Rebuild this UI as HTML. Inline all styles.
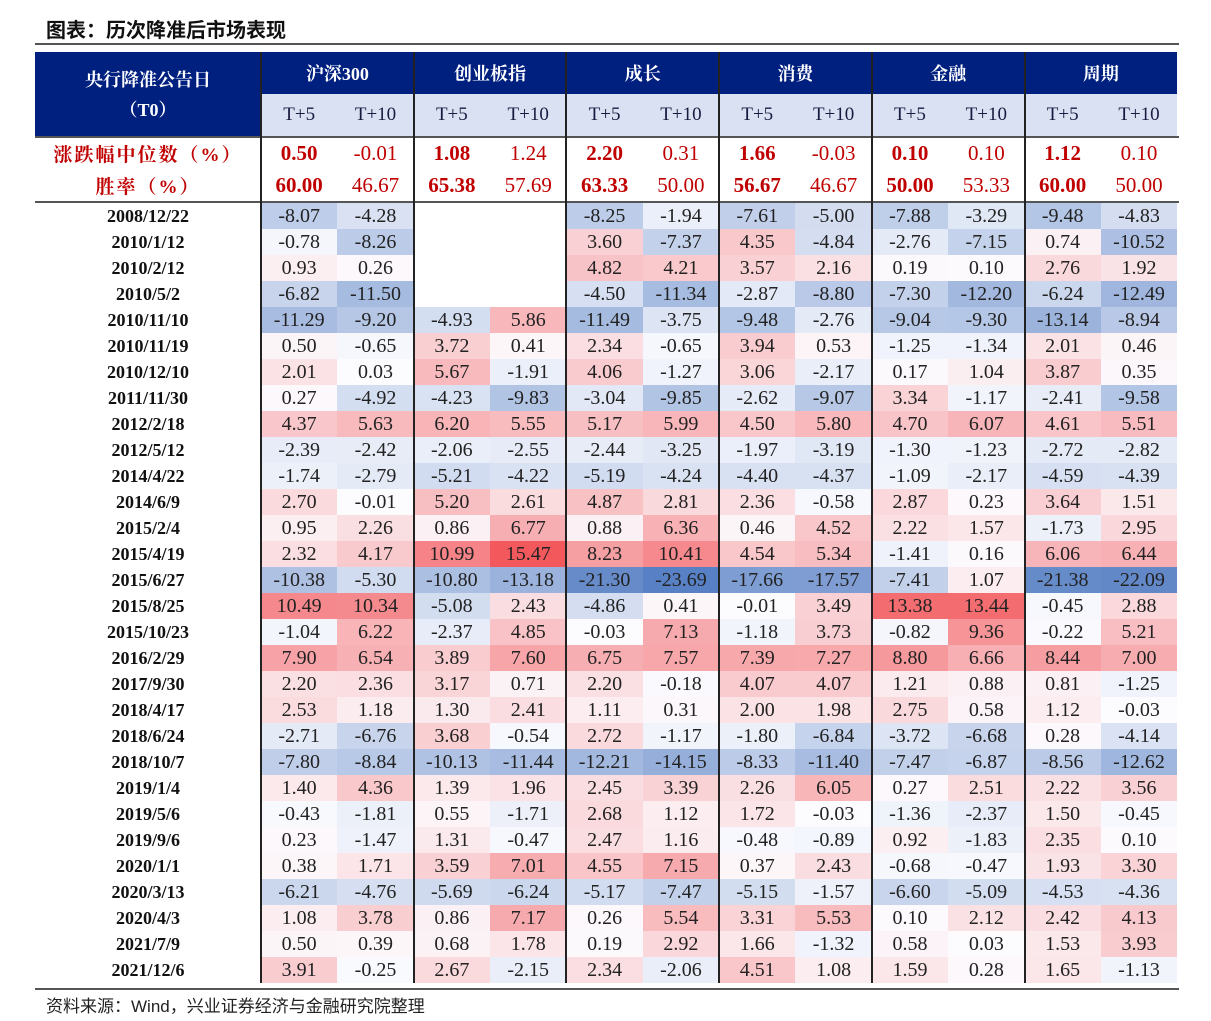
<!DOCTYPE html>
<html><head><meta charset="utf-8">
<style>
body{margin:0;background:#fff;width:1211px;height:1021px;position:relative;overflow:hidden;font-family:"Liberation Serif","Noto Serif CJK SC",serif;}
.abs{position:absolute;}
#title{left:46px;top:14px;font:bold 20px "Liberation Sans","Noto Sans CJK SC",sans-serif;color:#111;}
.hline{position:absolute;height:2px;background:#555;}
.c{position:absolute;display:flex;align-items:center;justify-content:center;box-sizing:border-box;}
#foot{left:46px;top:992px;font:17px "Liberation Sans","Noto Sans CJK SC",sans-serif;color:#222;}
</style></head><body>
<div id="title" class="abs">图表：历次降准后市场表现</div>
<div class="hline" style="left:35px;top:43px;width:1144px;"></div>
<div id="tbl"></div>
<div class="hline" style="left:35px;top:988px;width:1144px;"></div>
<div id="foot" class="abs">资料来源：Wind，兴业证券经济与金融研究院整理</div>
<script>
const groups=["沪深300","创业板指","成长","消费","金融","周期"];
const medians=["0.50","-0.01","1.08","1.24","2.20","0.31","1.66","-0.03","0.10","0.10","1.12","0.10"];
const winRates=["60.00","46.67","65.38","57.69","63.33","50.00","56.67","46.67","50.00","53.33","60.00","50.00"];
const dates=["2008/12/22","2010/1/12","2010/2/12","2010/5/2","2010/11/10","2010/11/19","2010/12/10","2011/11/30","2012/2/18","2012/5/12","2014/4/22","2014/6/9","2015/2/4","2015/4/19","2015/6/27","2015/8/25","2015/10/23","2016/2/29","2017/9/30","2018/4/17","2018/6/24","2018/10/7","2019/1/4","2019/5/6","2019/9/6","2020/1/1","2020/3/13","2020/4/3","2021/7/9","2021/12/6"];
const values=[
[-8.07,-4.28,null,null,-8.25,-1.94,-7.61,-5.00,-7.88,-3.29,-9.48,-4.83],
[-0.78,-8.26,null,null,3.60,-7.37,4.35,-4.84,-2.76,-7.15,0.74,-10.52],
[0.93,0.26,null,null,4.82,4.21,3.57,2.16,0.19,0.10,2.76,1.92],
[-6.82,-11.50,null,null,-4.50,-11.34,-2.87,-8.80,-7.30,-12.20,-6.24,-12.49],
[-11.29,-9.20,-4.93,5.86,-11.49,-3.75,-9.48,-2.76,-9.04,-9.30,-13.14,-8.94],
[0.50,-0.65,3.72,0.41,2.34,-0.65,3.94,0.53,-1.25,-1.34,2.01,0.46],
[2.01,0.03,5.67,-1.91,4.06,-1.27,3.06,-2.17,0.17,1.04,3.87,0.35],
[0.27,-4.92,-4.23,-9.83,-3.04,-9.85,-2.62,-9.07,3.34,-1.17,-2.41,-9.58],
[4.37,5.63,6.20,5.55,5.17,5.99,4.50,5.80,4.70,6.07,4.61,5.51],
[-2.39,-2.42,-2.06,-2.55,-2.44,-3.25,-1.97,-3.19,-1.30,-1.23,-2.72,-2.82],
[-1.74,-2.79,-5.21,-4.22,-5.19,-4.24,-4.40,-4.37,-1.09,-2.17,-4.59,-4.39],
[2.70,-0.01,5.20,2.61,4.87,2.81,2.36,-0.58,2.87,0.23,3.64,1.51],
[0.95,2.26,0.86,6.77,0.88,6.36,0.46,4.52,2.22,1.57,-1.73,2.95],
[2.32,4.17,10.99,15.47,8.23,10.41,4.54,5.34,-1.41,0.16,6.06,6.44],
[-10.38,-5.30,-10.80,-13.18,-21.30,-23.69,-17.66,-17.57,-7.41,1.07,-21.38,-22.09],
[10.49,10.34,-5.08,2.43,-4.86,0.41,-0.01,3.49,13.38,13.44,-0.45,2.88],
[-1.04,6.22,-2.37,4.85,-0.03,7.13,-1.18,3.73,-0.82,9.36,-0.22,5.21],
[7.90,6.54,3.89,7.60,6.75,7.57,7.39,7.27,8.80,6.66,8.44,7.00],
[2.20,2.36,3.17,0.71,2.20,-0.18,4.07,4.07,1.21,0.88,0.81,-1.25],
[2.53,1.18,1.30,2.41,1.11,0.31,2.00,1.98,2.75,0.58,1.12,-0.03],
[-2.71,-6.76,3.68,-0.54,2.72,-1.17,-1.80,-6.84,-3.72,-6.68,0.28,-4.14],
[-7.80,-8.84,-10.13,-11.44,-12.21,-14.15,-8.33,-11.40,-7.47,-6.87,-8.56,-12.62],
[1.40,4.36,1.39,1.96,2.45,3.39,2.26,6.05,0.27,2.51,2.22,3.56],
[-0.43,-1.81,0.55,-1.71,2.68,1.12,1.72,-0.03,-1.36,-2.37,1.50,-0.45],
[0.23,-1.47,1.31,-0.47,2.47,1.16,-0.48,-0.89,0.92,-1.83,2.35,0.10],
[0.38,1.71,3.59,7.01,4.55,7.15,0.37,2.43,-0.68,-0.47,1.93,3.30],
[-6.21,-4.76,-5.69,-6.24,-5.17,-7.47,-5.15,-1.57,-6.60,-5.09,-4.53,-4.36],
[1.08,3.78,0.86,7.17,0.26,5.54,3.31,5.53,0.10,2.12,2.42,4.13],
[0.50,0.39,0.68,1.78,0.19,2.92,1.66,-1.32,0.58,0.03,1.53,3.93],
[3.91,-0.25,2.67,-2.15,2.34,-2.06,4.51,1.08,1.59,0.28,1.65,-1.13]
];
const T=document.getElementById('tbl');
const X0=35,XC=261,GW=152.7,SW=GW/2;
const HY=52,SUBY=94,HB=136,R1=138,R2=170,SEP=201,DY=203,RH=26;
function add(x,y,w,h,txt,css,name,cls){const d=document.createElement('div');d.className=cls||'c';d.style.cssText=`left:${x}px;top:${y}px;width:${w}px;height:${h}px;`+(css||'');if(txt!=null)d.textContent=txt;


T.appendChild(d);return d;}
const hf='font:bold 18px "Liberation Serif","Noto Serif CJK SC",serif;';
add(X0,HY,XC-X0,HB-HY,null,'background:#002080;color:#fff;flex-direction:column;'+hf,'row-header-cell').innerHTML='<div>央行降准公告日</div><div style="margin-top:4px">（T0）</div>';
groups.forEach((g,i)=>{const x=XC+i*GW;
add(x,HY,GW,SUBY-HY,g,'background:#002080;color:#fff;'+hf,'group-header');
['T+5','T+10'].forEach((s,j)=>add(x+j*SW,SUBY,SW,HB-SUBY,s,'background:#d9e1f2;color:#1a1a40;font:19px "Liberation Serif",serif;','sub-header'));});
const red='color:#c00000;';
add(X0,R1,XC-X0,31,'涨跌幅中位数（%）',red+'font:bold 19px "Liberation Serif","Noto Serif CJK SC",serif;letter-spacing:2px;','median-label');
add(X0,R2,XC-X0,31,'胜率（%）',red+'font:bold 19px "Liberation Serif","Noto Serif CJK SC",serif;letter-spacing:2px;','win-rate-label');
for(let k=0;k<12;k++){const x=XC+k*SW,b=k%2==0?'bold ':'';
add(x,R1,SW,31,medians[k],red+`font:${b}21px "Liberation Serif",serif;`,'median-value');
add(x,R2,SW,31,winRates[k],red+`font:${b}21px "Liberation Serif",serif;`,'win-rate-value');}
const all=values.flat().filter(v=>v!=null);
const gmax=Math.max(...all),gmin=Math.min(...all);
function mix(a,b,t){return a.map((v,i)=>Math.round(v+(b[i]-v)*t));}
function color(v){const W=[252,252,255];if(v>=0)return mix(W,[242,88,92],Math.pow(v/gmax,0.9));return mix(W,[88,128,196],Math.pow(v/gmin,0.9));}
dates.forEach((d,r)=>{const y=DY+r*RH;
add(X0,y,XC-X0,RH,d,'font:bold 18px "Liberation Serif",serif;color:#111;','date-label');
values[r].forEach((v,k)=>{if(v==null)return;const c=color(v);
add(XC+k*SW,y,SW,RH,v.toFixed(2),`background:rgb(${c});font:20px "Liberation Serif",serif;color:#222;`,'heat-cell');});});
[[X0,HB,1144,2],[X0,SEP,1144,2]].forEach(l=>add(l[0],l[1],l[2],l[3],null,'background:#555;','row-rule','abs'));
for(let i=0;i<6;i++)add(XC-1+i*GW,HY,2,DY+30*RH-HY,null,'background:#222;','group-divider','abs');
</script>
</body></html>
